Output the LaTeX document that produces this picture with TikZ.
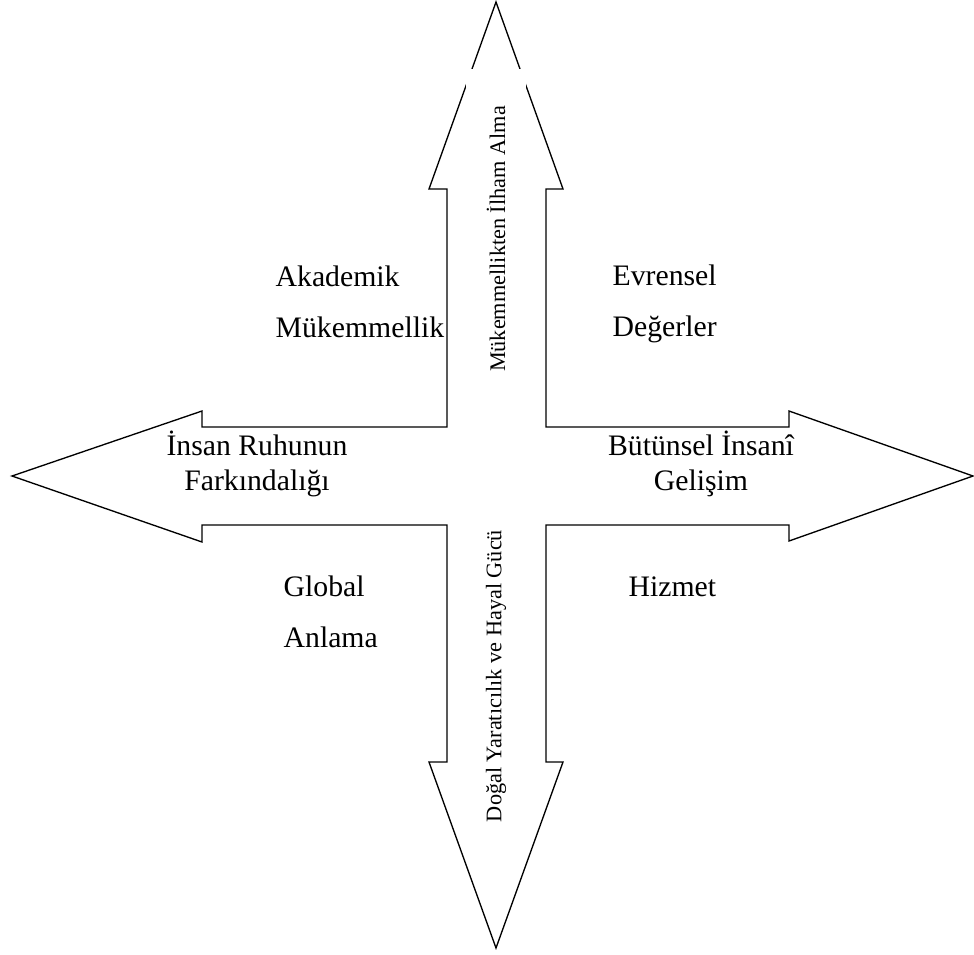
\documentclass[tikz,border=0pt]{standalone}
\usepackage{fontspec}
\setmainfont{Liberation Serif}
\usepackage{tikz}
\tikzset{
  corner/.style={font=\fontsize{22.3}{38}\selectfont, inner sep=0pt, align=left},
  wing/.style={font=\fontsize{22.3}{26.3}\selectfont, inner sep=0pt, align=center},
  stem/.style={font=\fontsize{16.7}{20}\selectfont, rotate=90, fill=white, inner sep=0pt,
    minimum width=255pt, minimum height=45pt}
}

\begin{document}
\begin{tikzpicture}[x=0.75pt, y=-0.75pt, line width=1pt]
\useasboundingbox (0,0) rectangle (974,954);

% four-way arrow
\draw (496,2) -- (563,189) -- (546,189) -- (546,427) -- (789,427) -- (789,411)
  -- (973,476) -- (789,541) -- (789,525) -- (546,525) -- (546,762) -- (563,762)
  -- (496,948) -- (429,762) -- (447,762) -- (447,525) -- (202,525) -- (202,542)
  -- (12,476) -- (202,411) -- (202,427) -- (447,427) -- (447,189) -- (429,189) -- cycle;

\node[stem] (up) at (496,239) {Mükemmellikten İlham Alma};
\node[stem] (down) at (496,676) {Doğal Yaratıcılık ve Hayal Gücü};

\node[wing] (left) at (257,464) {İnsan Ruhunun\\Farkındalığı};
\node[wing] (right) at (701,464) {Bütünsel İnsanî\\Gelişim};

\node[corner, anchor=west] (akademik) at (275,302) {Akademik\\Mükemmellik};
\node[corner, anchor=west] (evrensel) at (612,304) {Evrensel\\Değerler};
\node[corner, anchor=west] (global) at (283,612) {Global\\Anlama};
\node[corner, anchor=base west] (hizmet) at (628,596) {Hizmet};

\end{tikzpicture}
\end{document}
